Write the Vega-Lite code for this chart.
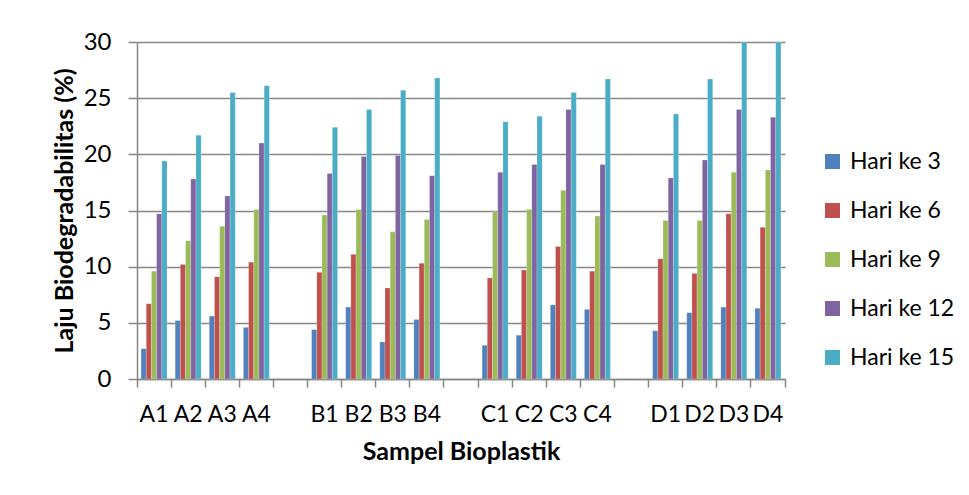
{
  "$schema": "https://vega.github.io/schema/vega-lite/v6.json",
  "width": 648,
  "height": 337,
  "autosize": {"type": "none"},
  "padding": {"left": 137, "top": 42, "right": 184, "bottom": 116},
  "background": "white",
  "config": {
    "font": "Lato",
    "view": {"stroke": null},
    "axis": {
      "domainColor": "#868686",
      "tickColor": "#868686",
      "labelColor": "#000000",
      "titleColor": "#000000",
      "labelFont": "Lato",
      "titleFont": "Lato"
    }
  },
  "data": {
    "values": [
      {"sampel": "A1", "hari": "Hari ke 3", "laju": 2.7},
      {"sampel": "A1", "hari": "Hari ke 6", "laju": 6.7},
      {"sampel": "A1", "hari": "Hari ke 9", "laju": 9.6},
      {"sampel": "A1", "hari": "Hari ke 12", "laju": 14.7},
      {"sampel": "A1", "hari": "Hari ke 15", "laju": 19.4},
      {"sampel": "A2", "hari": "Hari ke 3", "laju": 5.2},
      {"sampel": "A2", "hari": "Hari ke 6", "laju": 10.2},
      {"sampel": "A2", "hari": "Hari ke 9", "laju": 12.3},
      {"sampel": "A2", "hari": "Hari ke 12", "laju": 17.8},
      {"sampel": "A2", "hari": "Hari ke 15", "laju": 21.7},
      {"sampel": "A3", "hari": "Hari ke 3", "laju": 5.6},
      {"sampel": "A3", "hari": "Hari ke 6", "laju": 9.1},
      {"sampel": "A3", "hari": "Hari ke 9", "laju": 13.6},
      {"sampel": "A3", "hari": "Hari ke 12", "laju": 16.3},
      {"sampel": "A3", "hari": "Hari ke 15", "laju": 25.5},
      {"sampel": "A4", "hari": "Hari ke 3", "laju": 4.6},
      {"sampel": "A4", "hari": "Hari ke 6", "laju": 10.4},
      {"sampel": "A4", "hari": "Hari ke 9", "laju": 15.1},
      {"sampel": "A4", "hari": "Hari ke 12", "laju": 21.0},
      {"sampel": "A4", "hari": "Hari ke 15", "laju": 26.1},
      {"sampel": "B1", "hari": "Hari ke 3", "laju": 4.4},
      {"sampel": "B1", "hari": "Hari ke 6", "laju": 9.5},
      {"sampel": "B1", "hari": "Hari ke 9", "laju": 14.6},
      {"sampel": "B1", "hari": "Hari ke 12", "laju": 18.3},
      {"sampel": "B1", "hari": "Hari ke 15", "laju": 22.4},
      {"sampel": "B2", "hari": "Hari ke 3", "laju": 6.4},
      {"sampel": "B2", "hari": "Hari ke 6", "laju": 11.1},
      {"sampel": "B2", "hari": "Hari ke 9", "laju": 15.1},
      {"sampel": "B2", "hari": "Hari ke 12", "laju": 19.8},
      {"sampel": "B2", "hari": "Hari ke 15", "laju": 24.0},
      {"sampel": "B3", "hari": "Hari ke 3", "laju": 3.3},
      {"sampel": "B3", "hari": "Hari ke 6", "laju": 8.1},
      {"sampel": "B3", "hari": "Hari ke 9", "laju": 13.1},
      {"sampel": "B3", "hari": "Hari ke 12", "laju": 19.9},
      {"sampel": "B3", "hari": "Hari ke 15", "laju": 25.7},
      {"sampel": "B4", "hari": "Hari ke 3", "laju": 5.3},
      {"sampel": "B4", "hari": "Hari ke 6", "laju": 10.3},
      {"sampel": "B4", "hari": "Hari ke 9", "laju": 14.2},
      {"sampel": "B4", "hari": "Hari ke 12", "laju": 18.1},
      {"sampel": "B4", "hari": "Hari ke 15", "laju": 26.8},
      {"sampel": "C1", "hari": "Hari ke 3", "laju": 3.0},
      {"sampel": "C1", "hari": "Hari ke 6", "laju": 9.0},
      {"sampel": "C1", "hari": "Hari ke 9", "laju": 14.9},
      {"sampel": "C1", "hari": "Hari ke 12", "laju": 18.4},
      {"sampel": "C1", "hari": "Hari ke 15", "laju": 22.9},
      {"sampel": "C2", "hari": "Hari ke 3", "laju": 3.9},
      {"sampel": "C2", "hari": "Hari ke 6", "laju": 9.7},
      {"sampel": "C2", "hari": "Hari ke 9", "laju": 15.1},
      {"sampel": "C2", "hari": "Hari ke 12", "laju": 19.1},
      {"sampel": "C2", "hari": "Hari ke 15", "laju": 23.4},
      {"sampel": "C3", "hari": "Hari ke 3", "laju": 6.6},
      {"sampel": "C3", "hari": "Hari ke 6", "laju": 11.8},
      {"sampel": "C3", "hari": "Hari ke 9", "laju": 16.8},
      {"sampel": "C3", "hari": "Hari ke 12", "laju": 24.0},
      {"sampel": "C3", "hari": "Hari ke 15", "laju": 25.5},
      {"sampel": "C4", "hari": "Hari ke 3", "laju": 6.2},
      {"sampel": "C4", "hari": "Hari ke 6", "laju": 9.6},
      {"sampel": "C4", "hari": "Hari ke 9", "laju": 14.5},
      {"sampel": "C4", "hari": "Hari ke 12", "laju": 19.1},
      {"sampel": "C4", "hari": "Hari ke 15", "laju": 26.7},
      {"sampel": "D1", "hari": "Hari ke 3", "laju": 4.3},
      {"sampel": "D1", "hari": "Hari ke 6", "laju": 10.7},
      {"sampel": "D1", "hari": "Hari ke 9", "laju": 14.1},
      {"sampel": "D1", "hari": "Hari ke 12", "laju": 17.9},
      {"sampel": "D1", "hari": "Hari ke 15", "laju": 23.6},
      {"sampel": "D2", "hari": "Hari ke 3", "laju": 5.9},
      {"sampel": "D2", "hari": "Hari ke 6", "laju": 9.4},
      {"sampel": "D2", "hari": "Hari ke 9", "laju": 14.1},
      {"sampel": "D2", "hari": "Hari ke 12", "laju": 19.5},
      {"sampel": "D2", "hari": "Hari ke 15", "laju": 26.7},
      {"sampel": "D3", "hari": "Hari ke 3", "laju": 6.4},
      {"sampel": "D3", "hari": "Hari ke 6", "laju": 14.7},
      {"sampel": "D3", "hari": "Hari ke 9", "laju": 18.4},
      {"sampel": "D3", "hari": "Hari ke 12", "laju": 24.0},
      {"sampel": "D3", "hari": "Hari ke 15", "laju": 30.0},
      {"sampel": "D4", "hari": "Hari ke 3", "laju": 6.3},
      {"sampel": "D4", "hari": "Hari ke 6", "laju": 13.5},
      {"sampel": "D4", "hari": "Hari ke 9", "laju": 18.6},
      {"sampel": "D4", "hari": "Hari ke 12", "laju": 23.3},
      {"sampel": "D4", "hari": "Hari ke 15", "laju": 30.0}
    ]
  },
  "mark": {"type": "bar", "stroke": "#ffffff", "strokeOpacity": 0.35, "strokeWidth": 0.6},
  "encoding": {
    "x": {
      "field": "sampel",
      "type": "nominal",
      "scale": {
        "domain": ["A1", "A2", "A3", "A4", "-1", "B1", "B2", "B3", "B4", "-2", "C1", "C2", "C3", "C4", "-3", "D1", "D2", "D3", "D4"],
        "paddingInner": 0,
        "paddingOuter": 0
      },
      "axis": {
        "title": "Sampel Bioplastik",
        "labelAngle": 0,
        "bandPosition": 1,
        "tickExtra": true,
        "labelExpr": "test(/^-/, datum.label) ? '' : datum.label",
        "tickSize": 8,
        "tickWidth": 1.5,
        "domainWidth": 1.5,
        "labelFontSize": 23,
        "labelPadding": 16,
        "titleFontSize": 25,
        "titleFontWeight": "bold",
        "titlePadding": 13,
        "grid": false
      }
    },
    "xOffset": {
      "field": "hari",
      "type": "nominal",
      "scale": {
        "domain": ["Hari ke 3", "Hari ke 6", "Hari ke 9", "Hari ke 12", "Hari ke 15"],
        "paddingInner": 0,
        "paddingOuter": 0.78
      }
    },
    "y": {
      "field": "laju",
      "type": "quantitative",
      "scale": {"domain": [0, 30], "nice": false},
      "axis": {
        "title": "Laju Biodegradabilitas (%)",
        "values": [0, 5, 10, 15, 20, 25, 30],
        "grid": true,
        "gridColor": "#868686",
        "gridWidth": 1.5,
        "tickSize": 9,
        "tickWidth": 1.5,
        "domainWidth": 1.5,
        "labelFontSize": 24,
        "labelPadding": 17,
        "titleFontSize": 25,
        "titleFontWeight": "bold",
        "titlePadding": 6
      }
    },
    "color": {
      "field": "hari",
      "type": "nominal",
      "scale": {
        "domain": ["Hari ke 3", "Hari ke 6", "Hari ke 9", "Hari ke 12", "Hari ke 15"],
        "range": ["#4F81BD", "#C0504D", "#9BBB59", "#8064A2", "#4BACC6"]
      },
      "legend": {
        "title": null,
        "orient": "none",
        "legendX": 684,
        "legendY": 108,
        "symbolType": "square",
        "symbolSize": 225,
        "symbolStrokeWidth": 0,
        "labelFontSize": 23,
        "labelOffset": 6,
        "rowPadding": 25,
        "labelColor": "#000000"
      }
    }
  }
}
